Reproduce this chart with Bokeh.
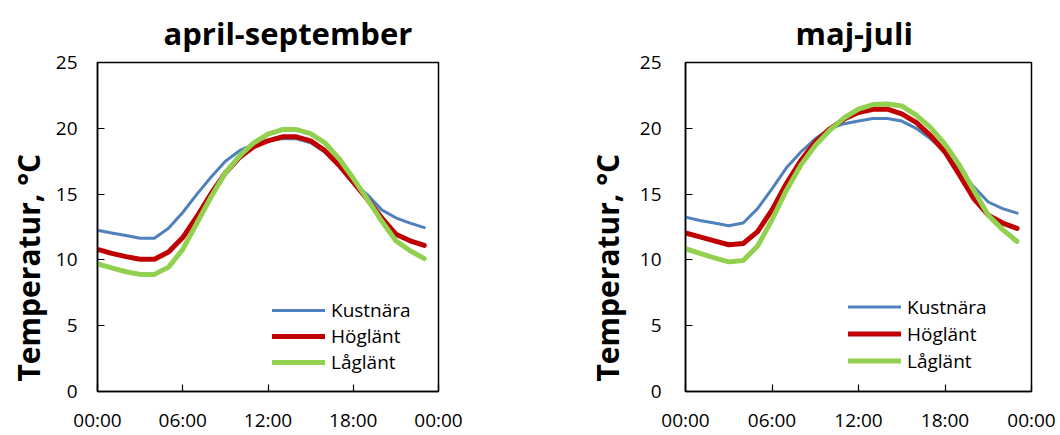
from bokeh.plotting import figure
from bokeh.layouts import row
from bokeh.models import Range1d, FixedTicker, Title
from bokeh.embed import file_html
from bokeh.resources import INLINE

hours = list(range(24))
series_names = ["Kustnära", "Höglänt", "Låglänt"]
series_colors = ["#4F81BD", "#C00000", "#92D050"]
series_widths = [3, 5, 5]

titles = ["april-september", "maj-juli"]
y_title = "Temperatur, °C"

apr_sep_kust = [12.25, 12.05, 11.85, 11.65, 11.65, 12.4, 13.6, 15.0, 16.3, 17.5, 18.3, 18.8,
                19.1, 19.2, 19.2, 18.9, 18.2, 17.1, 15.9, 14.95, 13.8, 13.2, 12.8, 12.45]
apr_sep_hog = [10.8, 10.5, 10.25, 10.05, 10.05, 10.6, 11.7, 13.3, 15.05, 16.6, 17.8, 18.6,
               19.05, 19.35, 19.35, 19.05, 18.3, 17.2, 15.9, 14.6, 13.2, 11.95, 11.45, 11.1]
apr_sep_lag = [9.7, 9.4, 9.1, 8.9, 8.9, 9.45, 10.8, 12.8, 14.8, 16.6, 17.9, 18.9,
               19.55, 19.9, 19.9, 19.6, 18.9, 17.7, 16.2, 14.6, 12.95, 11.45, 10.7, 10.1]

maj_jul_kust = [13.25, 13.0, 12.8, 12.6, 12.8, 13.9, 15.4, 17.0, 18.2, 19.2, 19.95, 20.35,
                20.55, 20.75, 20.75, 20.55, 20.0, 19.2, 18.2, 16.9, 15.55, 14.4, 13.9, 13.55]
maj_jul_hog = [12.05, 11.75, 11.45, 11.15, 11.25, 12.15, 13.8, 15.8, 17.55, 18.95, 19.95, 20.7,
               21.2, 21.45, 21.45, 21.1, 20.45, 19.45, 18.2, 16.45, 14.65, 13.4, 12.8, 12.4]
maj_jul_lag = [10.85, 10.5, 10.15, 9.85, 9.95, 11.05, 13.05, 15.3, 17.2, 18.7, 19.85, 20.8,
               21.45, 21.8, 21.85, 21.7, 21.0, 20.05, 18.8, 17.2, 15.3, 13.4, 12.3, 11.4]

x_ticks = [0, 6, 12, 18, 24]
x_tick_labels = ["00:00", "06:00", "12:00", "18:00", "00:00"]
y_ticks = [0, 5, 10, 15, 20, 25]

FONT = "Open Sans"


def make_panel(title, data, border_left, border_right, border_top, title_offset,
               legend_xy, item_h, label_standoff, ylabel_standoff):
    p = figure(width=530, height=435, output_backend="svg", toolbar_location=None,
               x_range=Range1d(0, 24), y_range=Range1d(0, 25),
               min_border_left=border_left, min_border_right=border_right,
               min_border_top=border_top, min_border_bottom=42)
    p.background_fill_color = "white"
    p.border_fill_color = "white"
    p.outline_line_color = "black"
    p.outline_line_width = 1.5
    p.xgrid.visible = False
    p.ygrid.visible = False

    p.title.text = title
    p.title.text_font = FONT
    p.title.text_font_size = "31px"
    p.title.text_font_style = "bold"
    p.title.text_color = "black"
    p.title.align = "left"
    p.title.offset = title_offset
    p.title.standoff = 18

    for vals, name, col, w in zip(data, series_names, series_colors, series_widths):
        p.line(hours, vals, line_color=col, line_width=w, legend_label=name,
               line_cap="round", line_join="round")

    xa = p.xaxis[0]
    xa.ticker = FixedTicker(ticks=x_ticks)
    xa.major_label_overrides = {t: l for t, l in zip(x_ticks, x_tick_labels)}
    ya = p.yaxis[0]
    ya.ticker = FixedTicker(ticks=y_ticks)
    for ax in (xa, ya):
        ax.axis_line_color = "black"
        ax.axis_line_width = 1.5
        ax.major_tick_in = 7
        ax.major_tick_out = 0
        ax.major_tick_line_width = 1.2
        ax.minor_tick_in = 0
        ax.minor_tick_out = 0
        ax.major_label_text_font = FONT
        ax.major_label_text_font_size = "19px"
        ax.major_label_text_color = "black"
    xa.major_label_standoff = 15
    ya.major_label_standoff = label_standoff

    yt = Title(text=y_title, align="left", offset=10, standoff=ylabel_standoff,
               text_font=FONT, text_font_size="30px", text_font_style="bold",
               text_color="black")
    p.add_layout(yt, "left")

    lg = p.legend[0]
    lg.location = legend_xy
    lg.border_line_color = None
    lg.background_fill_alpha = 0
    lg.padding = 0
    lg.margin = 0
    lg.spacing = 0
    lg.glyph_width = 53
    lg.glyph_height = item_h
    lg.label_height = item_h
    lg.label_standoff = 6
    lg.label_text_font = FONT
    lg.label_text_font_size = "19px"
    lg.label_text_color = "black"
    return p


p1 = make_panel(titles[0], [apr_sep_kust, apr_sep_hog, apr_sep_lag],
                97, 92, 59, 66, (175, 16), 26, 20, 7)
p2 = make_panel(titles[1], [maj_jul_kust, maj_jul_hog, maj_jul_lag],
                155, 29, 61, 110, (163, 17), 27, 24, 17)

layout = row(p1, p2)
open("out.html", "w").write(file_html(layout, INLINE))
